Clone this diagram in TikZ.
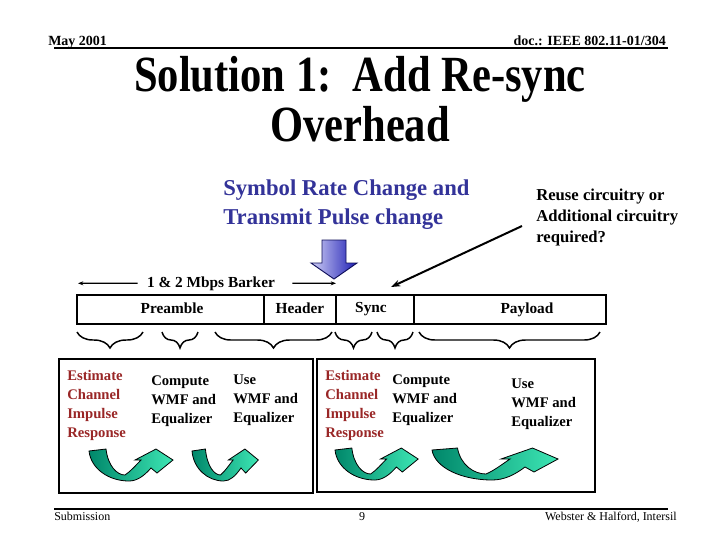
\documentclass[tikz,border=0pt]{standalone}
\usepackage{fontspec}
\setmainfont{Liberation Serif}
\newfontfamily\titlefont{Liberation Serif}[FakeStretch=0.84]
\usetikzlibrary{arrows.meta, positioning, decorations.pathreplacing}
\definecolor{noteblue}{HTML}{333399}
\definecolor{notered}{HTML}{992626}
\definecolor{greendark}{HTML}{00876A}
\definecolor{greenlight}{HTML}{3DE6B4}
\definecolor{arrowpale}{HTML}{D0D0F6}
\definecolor{arrowdeep}{HTML}{1E1EB4}

\tikzset{
    uturn/.pic={
        \draw[line width=0.6pt, left color=greendark, right color=greenlight]
            (0,2) -- (17,0) .. controls (19,17) and (28,26) .. (36,26)
            .. controls (42,22) and (47,16) .. (52,11) -- (46,11) -- (67,0)
            -- (84,11) -- (68,24) -- (62,19)
            .. controls (55,27) and (48,32) .. (40,32)
            .. controls (20,32) and (2,20) .. cycle;
    }
}

\begin{document}
\begin{tikzpicture}[
    x=0.75pt, y=-0.75pt, >=Stealth,
    hdr/.style={font=\fontsize{10.5}{12}\selectfont\bfseries, inner sep=0pt},
    ftr/.style={font=\fontsize{9}{11}\selectfont, inner sep=0pt},
    slidetitle/.style={font=\titlefont\bfseries\fontsize{38}{40}\selectfont, inner sep=0pt},
    bluenote/.style={font=\fontsize{17}{21.75}\selectfont\bfseries, text=noteblue, align=left, inner sep=0pt},
    blacknote/.style={font=\fontsize{12.5}{15.75}\selectfont\bfseries, align=left, inner sep=0pt},
    fieldlbl/.style={font=\fontsize{11.5}{13}\selectfont\bfseries, inner sep=0pt},
    redtext/.style={font=\fontsize{11}{14.25}\selectfont\bfseries, text=notered, align=left, inner sep=0pt},
    blacktext/.style={font=\fontsize{11}{14.25}\selectfont\bfseries, align=left, inner sep=0pt},
    rule/.style={line width=1.5pt},
    fieldbox/.style={line width=1.3pt},
    stepframe/.style={line width=2pt},
    bracedec/.style={line width=1.1pt, decorate, decoration={brace, mirror, amplitude=12pt}},
    thinarrow/.style={->, line width=0.9pt, >={Stealth[length=4pt, width=3pt]}},
    pointer/.style={->, line width=1.5pt, >={Stealth[length=7pt, width=5pt]}},
    bluearrow/.style={draw=arrowdeep!50!black, line width=0.7pt, left color=arrowpale, right color=arrowdeep}
]
\useasboundingbox (0,0) rectangle (720,540);
\fill[white] (0,0) rectangle (720,540);

% Header and footer
\node[hdr, anchor=base west] (date) at (48,45) {May 2001};
\node[hdr, anchor=base east] (docno) at (666,45) {doc.: IEEE 802.11-01/304};
\draw[rule] (54,48) -- (668,48);
\draw[rule] (54,509) -- (668,509);
\node[ftr, anchor=base west] (subm) at (54,520) {Submission};
\node[ftr, anchor=base] (pageno) at (362,520) {9};
\node[ftr, anchor=base east] (authors) at (677,520) {Webster \& Halford, Intersil};

% Title
\node[slidetitle, anchor=base] (title1) at (360,91) {Solution 1:\ \ Add Re-sync};
\node[slidetitle, anchor=base] (title2) at (360,141) {Overhead};

% Notes
\node[bluenote, anchor=north west] (symrate) at (223,179.5) {Symbol Rate Change and\\Transmit Pulse change};
\node[blacknote, anchor=north west] (reuse) at (536,188.5) {Reuse circuitry or\\Additional circuitry\\required?};
\draw[bluearrow] (322,240) -- (346,240) -- (346,263) -- (357,263) -- (334,279) -- (311,263) -- (322,263) -- cycle;
\coordinate (reusetail) at (522,226);
\coordinate (syncpoint) at (391,287);
\draw[pointer] (reusetail) -- (syncpoint);

% Barker span
\node[fieldlbl, anchor=base] (barker) at (211,287) {1 \& 2 Mbps Barker};
\coordinate (barkL) at (78,283.3);
\coordinate (barkR) at (336,283.3);
\draw[thinarrow] ([xshift=-7pt]barker.west) -- (barkL);
\draw[thinarrow] ([xshift=13pt]barker.east) -- (barkR);

% Frame fields
\draw[fieldbox] (77,295) rectangle (606,324);
\draw[fieldbox] (264,295) -- (264,324) (336,295) -- (336,324) (414,295) -- (414,324);
\node[fieldlbl, anchor=base] (preamble) at (172,313) {Preamble};
\node[fieldlbl, anchor=base] (header) at (300,313) {Header};
\node[fieldlbl, anchor=base] (sync) at (371,312.5) {Sync};
\node[fieldlbl, anchor=base] (payload) at (527,313) {Payload};

% Braces
\draw[bracedec] (77,332) -- (143,332);
\draw[bracedec] (162,332) -- (198,332);
\draw[bracedec] (215,332) -- (332,332);
\draw[bracedec] (335,332) -- (372,332);
\draw[bracedec] (377,332) -- (413,332);
\draw[bracedec] (419,332) -- (600,332);

% Steps before the re-sync
\draw[stepframe] (59,359) rectangle (313,493);
\node[redtext, anchor=north west] (est1) at (67,370) {Estimate\\Channel\\Impulse\\Response};
\node[blacktext, anchor=north west] (comp1) at (151,376) {Compute\\WMF and\\Equalizer};
\node[blacktext, anchor=north west] (use1) at (233,375) {Use\\WMF and\\Equalizer};
\pic at (89,449) {uturn};
\pic[xscale=0.79] at (192,449) {uturn};

% Steps after the re-sync
\draw[stepframe] (317,359) rectangle (595,492);
\node[redtext, anchor=north west] (est2) at (325,370) {Estimate\\Channel\\Impulse\\Response};
\node[blacktext, anchor=north west] (comp2) at (392,375) {Compute\\WMF and\\Equalizer};
\node[blacktext, anchor=north west] (use2) at (511,379) {Use\\WMF and\\Equalizer};
\pic[xscale=0.99] at (335,448) {uturn};
\pic[xscale=1.5] at (432,448) {uturn};
\end{tikzpicture}
\end{document}
